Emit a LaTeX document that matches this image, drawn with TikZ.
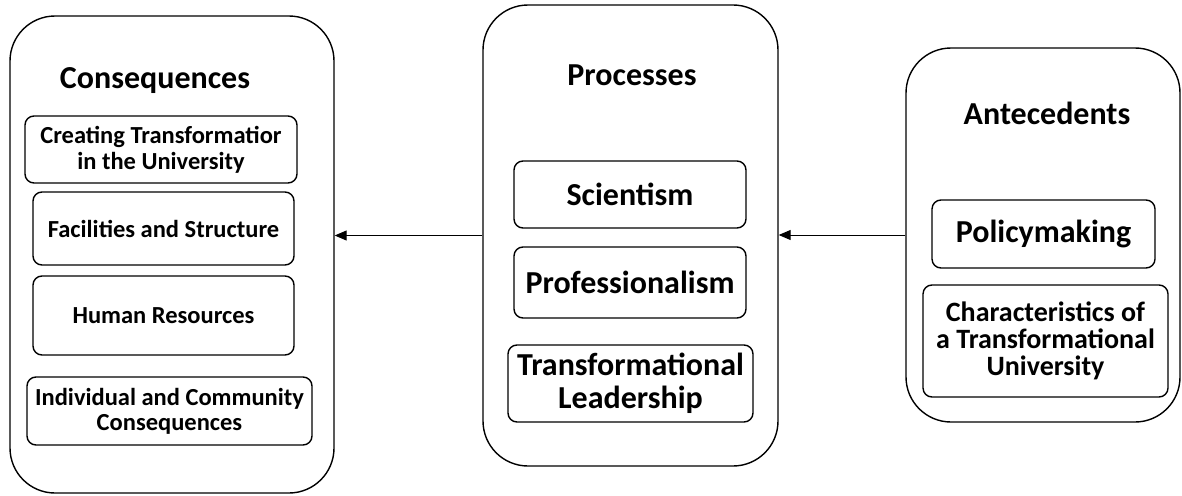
\documentclass[tikz,border=0pt]{standalone}
\usepackage{fontspec}
\setmainfont{Carlito}
\usetikzlibrary{arrows.meta}
\tikzset{
  panel/.style={draw,line width=1.4pt,rounded corners=45pt,inner sep=0pt},
  item/.style={draw,line width=1.4pt,rounded corners=9pt,inner sep=0pt,align=center},
  head/.style={font=\bfseries\fontsize{32}{34}\selectfont},
  arr/.style={-{Triangle[length=12pt,width=10pt]},line width=1pt}
}
\begin{document}
\begin{tikzpicture}[x=1pt,y=-1pt]
\useasboundingbox (0,0) rectangle (1182,495);
% outer panels
\node[panel,minimum width=324pt,minimum height=477pt] (cons) at (172,254.5) {};
\node[panel,minimum width=295pt,minimum height=461pt] (proc) at (630.5,235.5) {};
\node[panel,minimum width=274pt,minimum height=374pt] (ante) at (1043,235) {};
% headings
\node[head] (consT) at (155,81) {Consequences};
\node[head] (procT) at (632,75) {Processes};
\node[head] (anteT) at (1047,113) {Antecedents};
% consequences
\node[item,font=\bfseries\fontsize{24.5}{26}\selectfont,minimum width=272pt,minimum height=67pt] (create) at (161,149.5) {Creating Transformatior\\in the University};
\node[item,font=\bfseries\fontsize{24.5}{25}\selectfont,minimum width=261pt,minimum height=73pt] (facil) at (163.5,228.5) {Facilities and Structure};
\node[item,font=\bfseries\fontsize{24.5}{25}\selectfont,minimum width=261pt,minimum height=79pt] (human) at (163.5,315.5) {Human Resources};
\node[item,font=\bfseries\fontsize{24.5}{25}\selectfont,minimum width=285pt,minimum height=68pt] (indiv) at (169.5,411) {Individual and Community\\Consequences};
% processes
\node[item,font=\bfseries\fontsize{32}{32}\selectfont,minimum width=232pt,minimum height=67pt] (sci) at (630,194.5) {Scientism};
\node[item,font=\bfseries\fontsize{32}{32}\selectfont,minimum width=232pt,minimum height=71pt] (prof) at (630,282.5) {Professionalism};
\node[item,font=\bfseries\fontsize{32}{33}\selectfont,minimum width=245pt,minimum height=77pt] (lead) at (630.5,383.5) {Transformational\\Leadership};
% antecedents
\node[item,font=\bfseries\fontsize{32}{32}\selectfont,minimum width=223pt,minimum height=68pt] (pol) at (1043.5,234) {Policymaking};
\node[item,font=\bfseries\fontsize{28}{27}\selectfont,minimum width=245pt,minimum height=112pt] (char) at (1045.5,341) {Characteristics of\\a Transformational\\University};
% links
\draw[arr] (proc.west) -- (proc.west -| cons.east);
\draw[arr] (ante.west) -- (ante.west -| proc.east);
\end{tikzpicture}
\end{document}
